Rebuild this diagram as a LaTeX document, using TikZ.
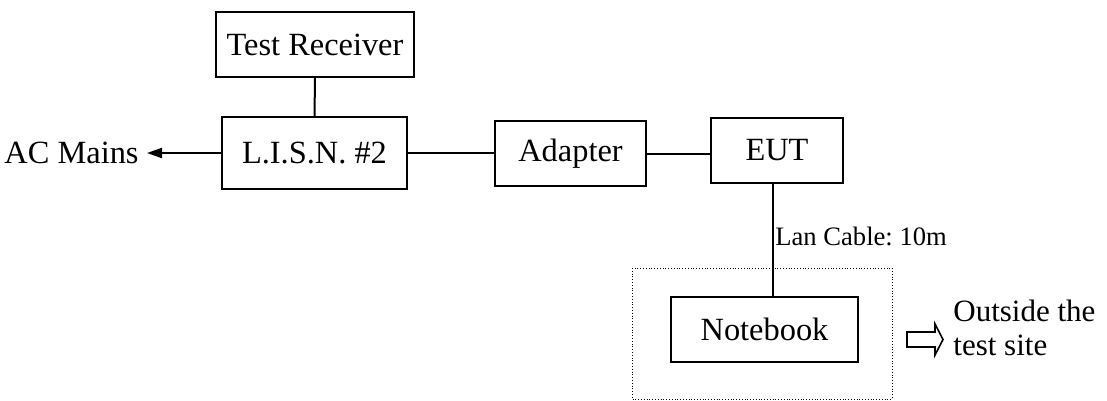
\documentclass[tikz,border=0pt]{standalone}
\usepackage{fontspec}
\setmainfont{Liberation Serif}
\usetikzlibrary{arrows.meta,calc,positioning}
\tikzset{
	unit/.style={draw,line width=1pt,inner sep=0,font=\fontsize{16.2}{18}\selectfont},
	lbl/.style={inner sep=0,font=\fontsize{16.2}{18}\selectfont},
	note/.style={inner sep=0,font=\fontsize{15.5}{17.3}\selectfont},
	small/.style={inner sep=0,font=\fontsize{13.3}{15}\selectfont},
	wire/.style={color=black,line width=1pt},
	feed/.style={->,>={Triangle[width=5pt,length=7.5pt]},color=black,line width=1pt},
	site/.style={draw,line width=0.5pt,dash pattern=on 0.5pt off 0.9pt},
	hollow/.style={draw,line width=0.8pt,fill=white,line join=miter}
}
\frenchspacing
\begin{document}
\begin{tikzpicture}[x=0.5pt,y=-0.5pt]
	\useasboundingbox (0,0) rectangle (1107,401);
	%%%units
	\node[unit,minimum width=99pt,minimum height=32.5pt] (recv) at (315,44.5) {Test Receiver};
	\node[unit,minimum width=92.5pt,minimum height=36pt] (lisn) at (314.5,153) {L.I.S.N. \#2};
	\node[unit,minimum width=75.5pt,minimum height=32.5pt] (adapt) at (570.5,153.5) {Adapter};
	\node[unit,minimum width=66pt,minimum height=32.5pt] (eut) at (777,150.5) {EUT};
	\node[unit,minimum width=93.5pt,minimum height=32.5pt] (nb) at (764.5,329.5) {Notebook};
	\node[lbl,anchor=east,inner xsep=4pt] (mains) at (147,153) {AC Mains};
	\coordinate (lan) at (773,0);
	
	\draw[wire] (recv.south) -- (lisn.north);
	\draw[feed] (lisn.west) -- (mains.east);
	\draw[wire] (lisn.east) -- (lisn.east -| adapt.west);
	\draw[wire] (adapt.east) -- (adapt.east -| eut.west);
	\draw[wire] (eut.south -| lan) -- (nb.north -| lan);
	\node[small,anchor=base west] (cable) at (775,245) {Lan Cable: 10m};
	
	%%%outside
	\draw[site] (632,268) rectangle (892,399);
	\coordinate (out) at (907,339.5);
	\draw[hollow] (out) ++(0,-7.5) -- ++(28,0) -- ++(0,-8) -- (943,339.5) -- (935,355) -- ++(0,-8) -- ++(-28,0) -- cycle;
	\node[note,anchor=west,align=left] (outside) at (953,328) {Outside the\\test site};
\end{tikzpicture}
\end{document}
